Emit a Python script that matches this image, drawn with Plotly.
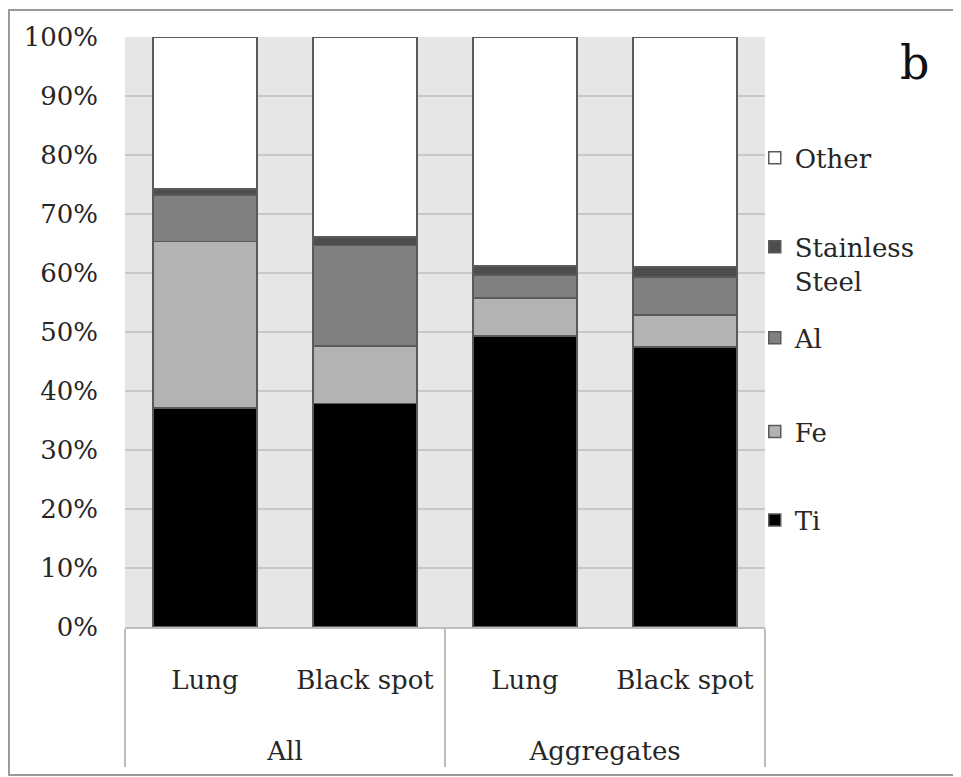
import plotly.graph_objects as go

groups = ["All", "All", "Aggregates", "Aggregates"]
sites = ["Lung", "Black spot", "Lung", "Black spot"]

ti = [37.1, 37.9, 49.3, 47.5]
fe = [28.2, 9.7, 6.5, 5.4]
al = [7.9, 17.1, 3.9, 6.4]
ss = [1.0, 1.4, 1.5, 1.7]
other = [25.8, 33.9, 38.8, 39.0]

series = [
    ("Ti", ti, "#000000"),
    ("Fe", fe, "#b3b3b3"),
    ("Al", al, "#808080"),
    ("Stainless<br>Steel", ss, "#4d4d4d"),
    ("Other", other, "#ffffff"),
]

FONT = "DejaVu Serif"
FS = 26
TXT = "#262626"

# blank lines under first-level labels to space the group labels
site_labels = [s + "<br> <br> " for s in sites]

leg_pos = {
    "Other": (0.795, "middle"),
    "Stainless<br>Steel": (0.684, "top"),
    "Al": (0.490, "middle"),
    "Fe": (0.331, "middle"),
    "Ti": (0.181, "middle"),
}

# the page has an 8px body margin, so the figure is 8px smaller
W, H = 953, 769
fig = go.Figure()
legend_layout = {}
for i, (name, vals, col) in enumerate(series):
    lname = "legend" if i == 0 else f"legend{i+1}"
    fig.add_trace(go.Bar(
        x=[groups, site_labels],
        y=[v / 100 for v in vals],
        name=name,
        marker=dict(color=col, line=dict(color="#5a5a5a", width=1.5)),
        width=0.65,
        legend=lname,
    ))
    y, anc = leg_pos[name]
    legend_layout[lname] = dict(
        x=0.984, xanchor="left", y=y, yanchor=anc,
        font=dict(family=FONT, size=FS, color=TXT),
        bgcolor="rgba(0,0,0,0)", borderwidth=0,
        itemwidth=30, valign="top", tracegroupgap=0,
    )

fig.update_layout(
    width=W, height=H,
    barmode="stack",
    paper_bgcolor="white",
    plot_bgcolor="#e6e6e6",
    margin=dict(l=117, r=196, t=29, b=150, autoexpand=False),
    font=dict(family=FONT, size=FS, color=TXT),
    bargap=0.35,
    showlegend=True,
    **legend_layout,
)
fig.update_yaxes(
    range=[0, 1], dtick=0.1, tickformat=".0%",
    showgrid=True, gridcolor="#c8c8c8", gridwidth=2,
    zeroline=False, showline=False,
    ticks="", ticklabelstandoff=26, automargin=False,
    tickfont=dict(family=FONT, size=FS, color=TXT),
)
fig.update_xaxes(
    showgrid=False, showline=True, linecolor="#bdbdbd", linewidth=2,
    showdividers=True, dividercolor="#bdbdbd", dividerwidth=2,
    tickfont=dict(family=FONT, size=FS, color=TXT),
    ticks="", automargin=False, tickangle=0, ticklabelstandoff=29,
)

fig.add_annotation(
    text="b", xref="paper", yref="paper", x=1.234, y=0.956,
    xanchor="center", yanchor="middle",
    showarrow=False, font=dict(family=FONT, size=46, color="#111111"),
)
fig.add_shape(
    type="rect", xref="paper", yref="paper",
    x0=-0.1813, x1=1.3, y0=-0.2508, y1=1.0458,
    line=dict(color="#9a9a9a", width=2), fillcolor="rgba(0,0,0,0)",
    layer="above",
)

fig.write_html("out.html")
